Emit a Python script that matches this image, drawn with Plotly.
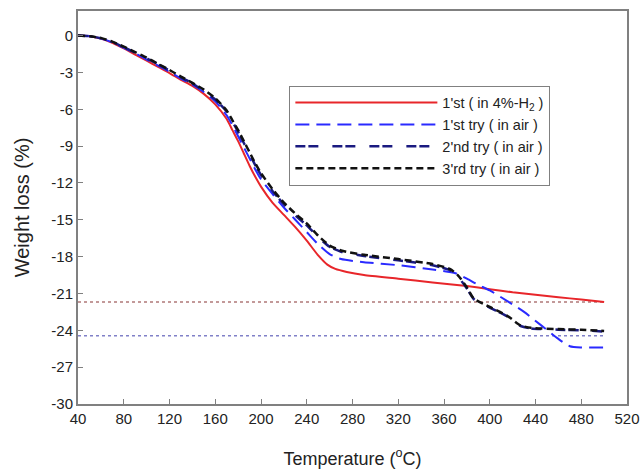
import plotly.graph_objects as go

# ---- data ----
t_red = [40, 50, 60, 70, 80, 90, 100, 110, 120, 130, 140, 150, 160, 170, 175, 180, 185, 190, 195, 200,
         210, 220, 230, 240, 250, 258, 265, 275, 290, 320, 350, 380, 400, 420, 440, 460, 480, 500]
w_red = [0, -0.05, -0.25, -0.6, -1.05, -1.55, -2.05, -2.55, -3.05, -3.6, -4.1, -4.75, -5.6, -6.8, -7.7, -8.6, -9.6, -10.6, -11.5, -12.3,
         -13.6, -14.6, -15.6, -16.7, -17.9, -18.65, -19.0, -19.25, -19.5, -19.8, -20.1, -20.4, -20.65, -20.9, -21.1, -21.3, -21.5, -21.7]

t_blue = [40, 50, 60, 70, 80, 90, 100, 110, 120, 130, 140, 150, 160, 170, 175, 180, 185, 190, 195, 200,
          210, 220, 230, 240, 250, 260, 270, 290, 320, 350, 370, 380, 390, 400, 415, 430, 445, 460, 470, 480, 500]
w_blue = [0, -0.05, -0.25, -0.55, -1.0, -1.45, -1.95, -2.45, -2.95, -3.5, -4.0, -4.6, -5.35, -6.5, -7.3, -8.2, -9.1, -10.0, -10.9, -11.7,
          -12.9, -14.0, -15.0, -16.0, -17.0, -17.8, -18.2, -18.45, -18.7, -19.05, -19.35, -19.8, -20.3, -20.75, -21.6, -22.5, -23.6, -24.7, -25.3, -25.4, -25.4]

t_2nd = [40, 50, 60, 70, 80, 90, 100, 110, 120, 130, 140, 150, 160, 170, 175, 180, 185, 190, 195, 200,
         210, 220, 230, 240, 250, 260, 270, 290, 320, 350, 365, 372, 380, 386, 400, 415, 427, 436, 460, 480, 500]
w_2nd = [0, -0.05, -0.22, -0.52, -0.95, -1.4, -1.85, -2.35, -2.85, -3.4, -3.9, -4.5, -5.2, -6.2, -7.0, -7.85, -8.75, -9.65, -10.55, -11.35,
         -12.65, -13.75, -14.65, -15.45, -16.4, -17.2, -17.6, -17.95, -18.3, -18.7, -19.1, -19.6, -20.6, -21.45, -22.15, -22.85, -23.65, -23.85, -23.95, -24.0, -24.1]

t_3rd = [40, 50, 60, 70, 80, 90, 100, 110, 120, 130, 140, 150, 160, 170, 175, 180, 185, 190, 195, 200,
         210, 220, 230, 240, 250, 260, 270, 290, 320, 350, 365, 372, 380, 386, 400, 415, 427, 436, 460, 480, 500]
w_3rd = [0, -0.05, -0.2, -0.5, -0.9, -1.35, -1.8, -2.3, -2.8, -3.35, -3.85, -4.4, -5.1, -6.1, -6.9, -7.7, -8.6, -9.5, -10.4, -11.2,
         -12.5, -13.6, -14.5, -15.3, -16.3, -17.1, -17.5, -17.85, -18.2, -18.6, -19.0, -19.5, -20.5, -21.4, -22.1, -22.8, -23.6, -23.8, -23.9, -23.95, -24.05]

t_ref = [40, 500]
w_ref_h2 = [-21.7, -21.7]
w_ref_air = [-24.45, -24.45]

x_ticks = list(range(40, 521, 40))
y_ticks = list(range(-30, 1, 3))

font = "Liberation Sans, Arial, sans-serif"

fig = go.Figure()
fig.add_trace(go.Scatter(x=t_ref, y=w_ref_h2, mode="lines", showlegend=False,
                         line=dict(color="#b07878", width=1.5, dash="dot")))
fig.add_trace(go.Scatter(x=t_ref, y=w_ref_air, mode="lines", showlegend=False,
                         line=dict(color="#8080c8", width=1.5, dash="dot")))
fig.add_trace(go.Scatter(x=t_red, y=w_red, mode="lines", name="1'st ( in 4%-H<sub>2</sub> )",
                         line=dict(color="#e8262a", width=2, shape="spline", smoothing=0.6)))
fig.add_trace(go.Scatter(x=t_blue, y=w_blue, mode="lines", name="1'st try ( in air )",
                         line=dict(color="#2a2aff", width=2, dash="14px,7px", shape="spline", smoothing=0.6)))
fig.add_trace(go.Scatter(x=t_2nd, y=w_2nd, mode="lines", name="2'nd try ( in air )",
                         line=dict(color="#1a1a80", width=2.5, dash="10px,3px,10px,14px", shape="spline", smoothing=0.6)))
fig.add_trace(go.Scatter(x=t_3rd, y=w_3rd, mode="lines", name="3'rd try ( in air )",
                         line=dict(color="#111111", width=2.5, dash="7px,4px", shape="spline", smoothing=0.6)))

axis_common = dict(showline=True, linecolor="#808080", linewidth=2, mirror=True,
                   ticks="inside", ticklen=5, tickcolor="#808080", tickwidth=1,
                   showgrid=False, zeroline=False, automargin=False,
                   tickfont=dict(family=font, size=15, color="#222222"))

fig.update_xaxes(range=[40, 520], tickvals=x_ticks, ticktext=[str(v) for v in x_ticks],
                 title=dict(text="Temperature (<sup>o</sup>C)", font=dict(family=font, size=18, color="#222222"), standoff=26),
                 **axis_common)
fig.update_yaxes(range=[-30, 2], tickvals=y_ticks, ticktext=[str(v) for v in y_ticks],
                 title=dict(text="Weight loss (%)", font=dict(family=font, size=20, color="#222222"), standoff=16),
                 **axis_common)

fig.update_layout(
    width=640, height=470,
    margin=dict(l=78, r=13, t=11, b=66),
    plot_bgcolor="white", paper_bgcolor="white",
    legend=dict(x=0.385, y=0.81, xanchor="left", yanchor="top",
                bgcolor="white", bordercolor="#808080", borderwidth=1,
                font=dict(family=font, size=14.5, color="#222222"),
                itemwidth=142, tracegroupgap=0),
)

fig.write_html("out.html", config={"displayModeBar": False},
               post_script="document.body.style.margin='0';document.body.style.overflow='hidden';")
